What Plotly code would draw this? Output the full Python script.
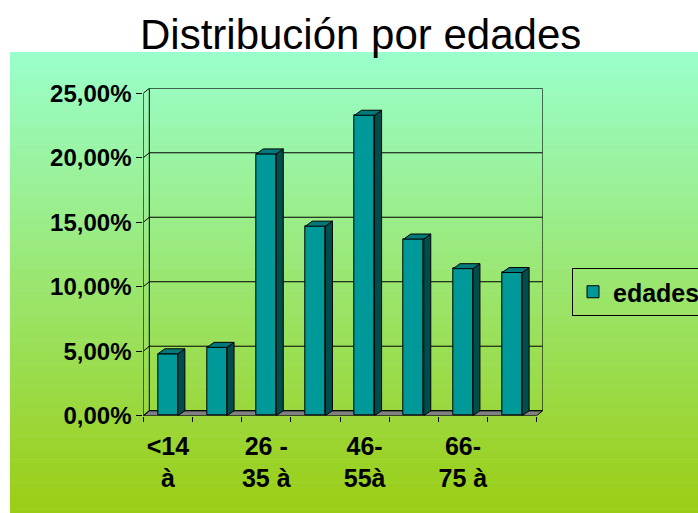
import plotly.graph_objects as go

# ---- data ----
categories = ["<14 à", "15-25 à", "26 - 35 à", "36-45 à", "46- 55à", "56-65 à", "66- 75 à", ">75 à"]
shares = [4.8, 5.3, 20.3, 14.7, 23.3, 13.7, 11.4, 11.1]   # percent
series_name = "edades"
y_ticks = [0, 5, 10, 15, 20, 25]
y_ticktext = ["0,00%", "5,00%", "10,00%", "15,00%", "20,00%", "25,00%"]
x_label_idx = [0, 2, 4, 6]
x_ticktext = ["<14<br>à", "26 -<br>35 à", "46-<br>55à", "66-<br>75 à"]

# ---- geometry (pixels) ----
W, H = 698, 513
FRONT_LEFT, FRONT_RIGHT = 143.3, 536.7
FRONT_BOTTOM, FRONT_TOP = 415.7, 93.3
WALL_DX_PX, WALL_DY_PX = 6.0, 5.0      # depth of the walls / floor
BAR_DX_PX, BAR_DY_PX = 7.0, 5.0        # depth of each bar
BAR_W_PX = 20.0

n = len(categories)
ymax = max(y_ticks)
ux = (FRONT_RIGHT - FRONT_LEFT) / n          # px per category
uy = (FRONT_BOTTOM - FRONT_TOP) / ymax       # px per percent
DX, DY = WALL_DX_PX / ux, WALL_DY_PX / uy
BDX, BDY = BAR_DX_PX / ux, BAR_DY_PX / uy
bw = BAR_W_PX / ux

x_range = [0, n + DX]
y_range = [0, ymax + DY]
dom_x = [FRONT_LEFT / W, (FRONT_RIGHT + WALL_DX_PX) / W]
dom_y = [1 - FRONT_BOTTOM / H, 1 - (FRONT_TOP - WALL_DY_PX) / H]

TEAL = "#009999"
TEAL_TOP = "#007a7a"
TEAL_SIDE = "#004d4d"
FONT = "Liberation Sans, Arial, sans-serif"

centers = [i + 0.5 for i in range(n)]

fig = go.Figure()

# front faces of the bars
fig.add_trace(go.Bar(
    x=centers, y=shares, width=bw, name=series_name,
    marker=dict(color=TEAL, line=dict(color="black", width=1)),
    showlegend=True,
))

# side and top faces of the bars
for c, v in zip(centers, shares):
    x0, x1 = c - bw / 2, c + bw / 2
    fig.add_trace(go.Scatter(
        x=[x1, x1 + BDX, x1 + BDX, x1, x1], y=[0, BDY, v + BDY, v, 0],
        mode="lines", fill="toself", fillcolor=TEAL_SIDE,
        line=dict(color="black", width=1), showlegend=False, hoverinfo="skip"))
    fig.add_trace(go.Scatter(
        x=[x0, x1, x1 + BDX, x0 + BDX, x0], y=[v, v, v + BDY, v + BDY, v],
        mode="lines", fill="toself", fillcolor=TEAL_TOP,
        line=dict(color="black", width=1), showlegend=False, hoverinfo="skip"))

shapes = []

# background gradient
top_rgb = (153, 255, 204)
bot_rgb = (155, 205, 20)
g_top, g_bot = 52, H
steps = 120
for k in range(steps):
    t = (k + 0.5) / steps
    col = tuple(round(a + (b - a) * t) for a, b in zip(top_rgb, bot_rgb))
    ya = g_top + (g_bot - g_top) * k / steps
    yb = g_top + (g_bot - g_top) * (k + 1) / steps + 0.6
    shapes.append(dict(type="rect", xref="paper", yref="paper", layer="below",
                       x0=10 / W, x1=1.0, y0=max(0.0, 1 - yb / H), y1=1 - ya / H,
                       fillcolor="rgb(%d,%d,%d)" % col, line=dict(width=0)))

line_k = dict(color="black", width=1)
# floor
shapes.append(dict(type="path", xref="x", yref="y", layer="below",
                   path=f"M0,0 L{n},0 L{n + DX},{DY} L{DX},{DY} Z",
                   fillcolor="#808080", line=line_k))
# back wall grid and frame
for v in y_ticks:
    shapes.append(dict(type="line", xref="x", yref="y", layer="below",
                       x0=DX, x1=n + DX, y0=v + DY, y1=v + DY, line=line_k))
    shapes.append(dict(type="line", xref="x", yref="y", layer="below",
                       x0=0, x1=DX, y0=v, y1=v + DY, line=line_k))
shapes.append(dict(type="line", xref="x", yref="y", layer="below",
                   x0=DX, x1=DX, y0=DY, y1=ymax + DY, line=line_k))
shapes.append(dict(type="line", xref="x", yref="y", layer="below",
                   x0=n + DX, x1=n + DX, y0=DY, y1=ymax + DY, line=line_k))
shapes.append(dict(type="line", xref="x", yref="y", layer="below",
                   x0=0, x1=0, y0=0, y1=ymax, line=line_k))

fig.update_layout(
    width=W, height=H,
    margin=dict(l=0, r=0, t=0, b=0, autoexpand=False),
    paper_bgcolor="white", plot_bgcolor="rgba(0,0,0,0)",
    shapes=shapes,
    showlegend=True,
    legend=dict(x=572 / W, y=1 - 268 / H, xanchor="left", yanchor="top",
                bgcolor="rgba(0,0,0,0)", bordercolor="black", borderwidth=1,
                itemwidth=30,
                font=dict(family=FONT, size=25, color="black", weight="bold")),
    annotations=[dict(text="Distribución por edades", xref="paper", yref="paper",
                      x=360 / W, y=1 - 35 / H, xanchor="center", yanchor="middle",
                      showarrow=False,
                      font=dict(family=FONT, size=42, color="black"))],
    bargap=0,
)

fig.update_xaxes(
    domain=dom_x, range=x_range, showgrid=False, zeroline=False, showline=False,
    automargin=False,
    tickmode="array", tickvals=[centers[i] for i in x_label_idx], ticktext=x_ticktext,
    ticks="", ticklabelstandoff=13,
    tickfont=dict(family=FONT, size=25, color="black", weight="bold"),
    minor=dict(tickmode="array", tickvals=list(range(n + 1)), ticks="outside",
               ticklen=5, tickcolor="black", tickwidth=1, showgrid=False),
    fixedrange=True,
)
fig.update_yaxes(
    domain=dom_y, range=y_range, showgrid=False, zeroline=False, showline=False,
    automargin=False,
    tickmode="array", tickvals=y_ticks, ticktext=y_ticktext,
    ticks="outside", ticklen=6, tickcolor="black", tickwidth=1,
    tickfont=dict(family=FONT, size=24, color="black", weight="bold"),
    fixedrange=True,
)

fig.write_html("out.html")
